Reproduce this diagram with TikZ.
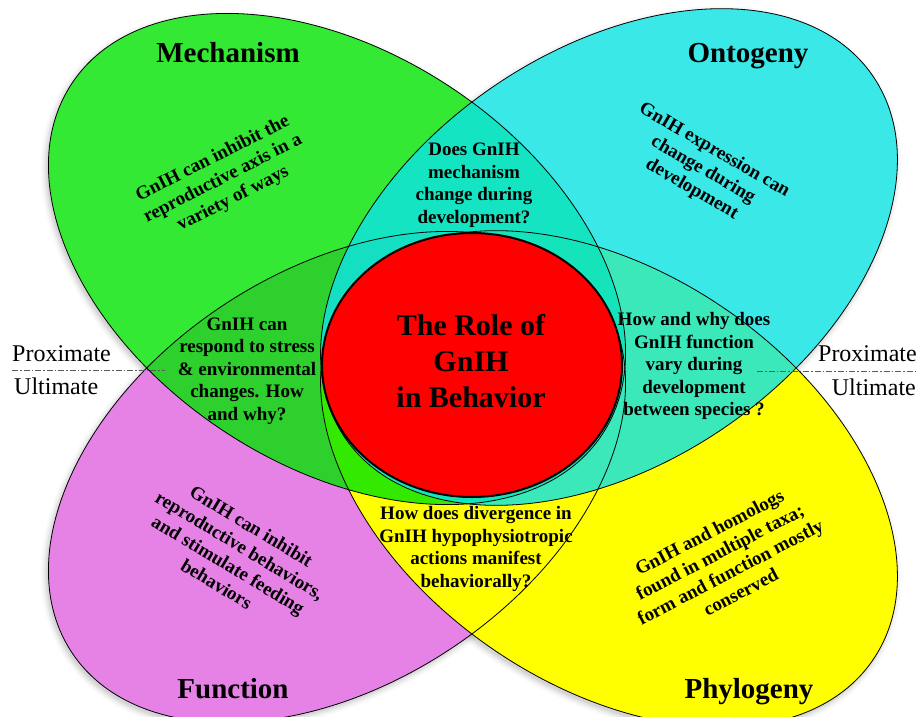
\documentclass[tikz,border=0pt]{standalone}
\usepackage{fontspec}
\setmainfont{Liberation Serif}
\begin{document}
\begin{tikzpicture}[x=1pt,y=-1pt,
  outl/.style={draw=black, line width=0.8pt},
  body/.style={font=\bfseries\fontsize{19}{22.5}\selectfont, align=center, inner sep=0pt},
  ttl/.style={font=\bfseries\fontsize{29}{33}\selectfont, inner sep=0pt},
  side/.style={font=\fontsize{24}{28}\selectfont, inner sep=0pt},
  axisline/.style={draw=black!65, line width=0.9pt, dash pattern=on 6pt off 2pt on 1.5pt off 2pt}]
\definecolor{magc}{RGB}{230,129,230}
\definecolor{yelc}{RGB}{255,255,0}
\definecolor{grnc}{RGB}{0,228,0}
\definecolor{cyac}{RGB}{15,227,227}
\definecolor{redc}{RGB}{255,0,0}
\useasboundingbox (0,0) rectangle (919,716);
\fill[white] (0,0) rectangle (919,716);
% soft shadows (only visible outside the shapes)
\foreach \r/\o in {0/0.06, 2/0.05, 4/0.035, 6/0.02} {
  \fill[black, fill opacity=\o] [shift={(335,480)}, rotate=33.5] (0,0) ellipse [x radius=318+\r, y radius=206+\r];
  \fill[black, fill opacity=\o] [shift={(607,482)}, rotate=-34.5] (0,0) ellipse [x radius=320+\r, y radius=206+\r];
  \fill[black, fill opacity=\o] [shift={(335,262)}, rotate=-33.5] (0,0) ellipse [x radius=318+\r, y radius=206+\r];
  \fill[black, fill opacity=\o] [shift={(607,260)}, rotate=34.5] (0,0) ellipse [x radius=320+\r, y radius=206+\r];
}
\fill[white] [shift={(337,259)}, rotate=-33.5] (0,0) ellipse [x radius=318, y radius=206];
\fill[white] [shift={(609,257)}, rotate=34.5] (0,0) ellipse [x radius=320, y radius=206];
% fills
\fill[magc] [shift={(337,477)}, rotate=33.5] (0,0) ellipse [x radius=318, y radius=206];
\fill[yelc] [shift={(609,479)}, rotate=-34.5] (0,0) ellipse [x radius=320, y radius=206];
\fill[grnc, fill opacity=0.8] [shift={(337,259)}, rotate=-33.5] (0,0) ellipse [x radius=318, y radius=206];
\fill[cyac, fill opacity=0.82] [shift={(609,257)}, rotate=34.5] (0,0) ellipse [x radius=320, y radius=206];
% outlines
\draw[outl] [shift={(337,477)}, rotate=33.5] (0,0) ellipse [x radius=318, y radius=206];
\draw[outl] [shift={(609,479)}, rotate=-34.5] (0,0) ellipse [x radius=320, y radius=206];
\draw[outl] [shift={(337,259)}, rotate=-33.5] (0,0) ellipse [x radius=318, y radius=206];
\draw[outl] [shift={(609,257)}, rotate=34.5] (0,0) ellipse [x radius=320, y radius=206];
% centre
\draw[fill=redc, line width=2pt] (472,365) ellipse [x radius=150, y radius=132];
% axis lines
\coordinate (pl1) at (12,370);
\coordinate (pl2) at (165,370);
\coordinate (pr1) at (757,371);
\coordinate (pr2) at (917,371);
\draw[axisline] (pl1) -- (pl2);
\draw[axisline] (pr1) -- (pr2);
\node[side, anchor=base west] (proxL) at (12,361) {Proximate};
\node[side, anchor=base west] (ultL) at (14,394) {Ultimate};
\node[side, anchor=base east] (proxR) at (917,361) {Proximate};
\node[side, anchor=base east] (ultR) at (916,395) {Ultimate};
% titles
\node[ttl, anchor=base] (mech) at (228,62) {Mechanism};
\node[ttl, anchor=base] (onto) at (748,62) {Ontogeny};
\node[ttl, anchor=base] (func) at (233,698) {Function};
\node[ttl, anchor=base] (phyl) at (749,698) {Phylogeny};
% centre text
\node[font=\bfseries\fontsize{30}{36}\selectfont, align=center, inner sep=0pt] (role) at (471,361) {The Role of\\GnIH\\in Behavior};
% region texts
\node[body, rotate=27] (tmech) at (223,179) {GnIH can inhibit the\\reproductive axis in a\\variety of ways};
\node[body, rotate=-30] (tonto) at (703,170) {GnIH expression can\\change during\\development};
\node[body, rotate=-31] (tfunc) at (234,555) {GnIH can inhibit\\reproductive behaviors,\\and stimulate feeding\\behaviors};
\node[body, rotate=27.5] (tphyl) at (725,562) {GnIH and homologs\\found in multiple taxa;\\form and function mostly\\conserved};
\node[body] (tmo) at (474,185) {Does GnIH\\mechanism\\change during\\development?};
\node[body] (tmf) at (247,371) {GnIH can\\respond to stress\\\& environmental\\changes. How\\and why?};
\node[body] (top) at (694,366) {How and why does\\GnIH function\\vary during\\development\\between species ?};
\node[body] (tfp) at (476,549) {How does divergence in\\GnIH hypophysiotropic\\actions manifest\\behaviorally?};
\end{tikzpicture}
\end{document}
